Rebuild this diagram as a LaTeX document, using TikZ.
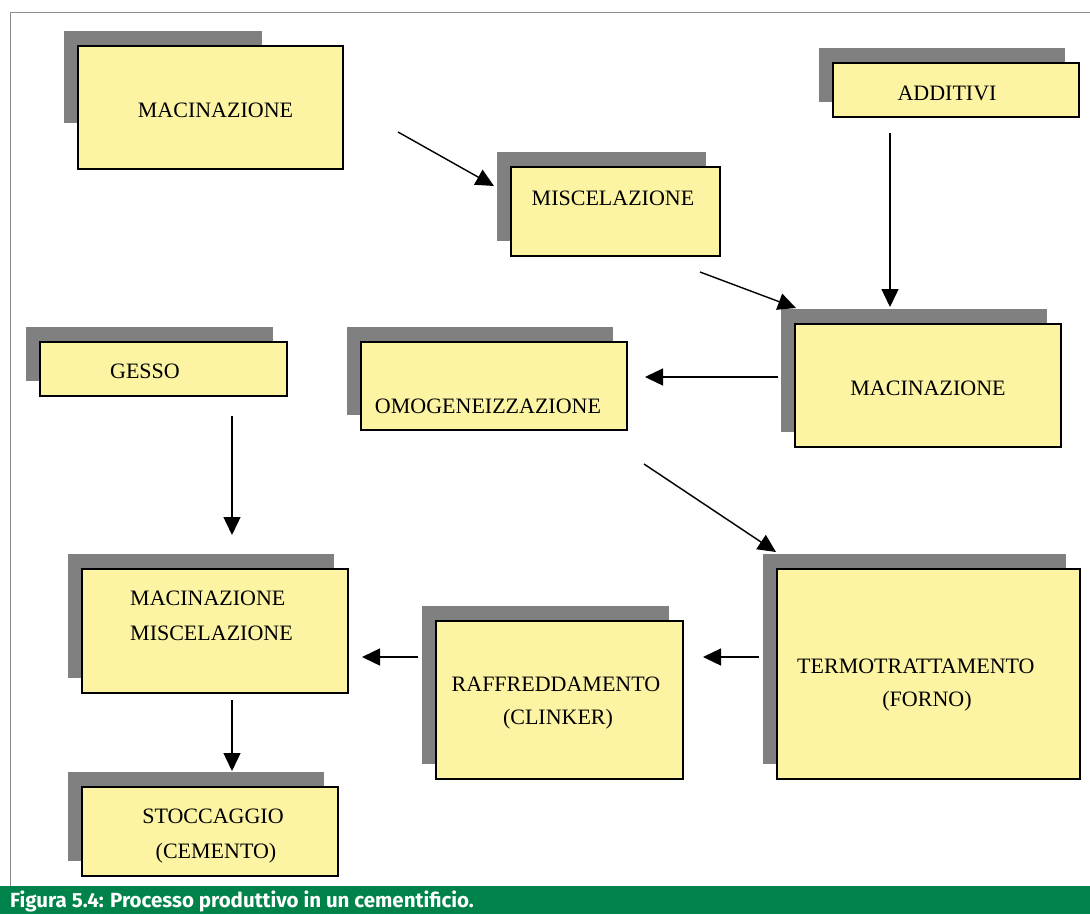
\documentclass[tikz,border=0pt]{standalone}
\usepackage{fontspec}
\setmainfont{Liberation Serif}
\newfontfamily\capfont{Fira Sans}
\usepackage{xcolor}
\usetikzlibrary{arrows.meta, shadows}
\definecolor{boxyellow}{RGB}{252,244,163}
\definecolor{shadowgray}{RGB}{128,128,128}
\definecolor{capgreen}{RGB}{0,131,74}
\definecolor{framegray}{RGB}{140,140,140}

\begin{document}
\begin{tikzpicture}[x=1pt, y=-1pt,
  bx/.style={rectangle, draw=black, line width=1.4pt, fill=boxyellow,
             inner sep=0pt, outer sep=0pt},
  sbx/.style={bx, general shadow={fill=shadowgray, shadow xshift=-14pt,
              shadow yshift=15pt}},
  lbl/.style={font=\fontsize{22}{26}\selectfont, inner sep=0pt, anchor=base},
  ar/.style={-{Triangle[length=18pt, width=17pt]}, line width=1.4pt},
  captxt/.style={font=\capfont\bfseries\fontsize{20.5}{24}\selectfont, text=white,
              inner sep=0pt, anchor=base west}
]
\useasboundingbox (0,0) rectangle (1090,914);
\fill[white] (0,0) rectangle (1090,914);
%% Frame and caption bar
\coordinate (fbl) at (10,886);
\coordinate (ftl) at (10,12);
\coordinate (ftr) at (1090,12);
\draw[framegray, line width=1pt] (fbl) -- (ftl) -- (ftr);
\fill[capgreen] (0,886) rectangle (1090,914);
\node[captxt] (caption) at (10,907) {Figura 5.4: Processo produttivo in un cementificio.};

%% Top row
\fill[shadowgray] (64,31) rectangle (262,123);
\node[bx, minimum width=265pt, minimum height=123pt] (mac1) at (210.5,107.5) {};
\node[lbl] (tmac1) at (215.5,117) {MACINAZIONE};
\node[sbx, minimum width=246pt, minimum height=54pt] (add) at (956,90) {};
\node[lbl] (tadd) at (947,100) {ADDITIVI};
\node[sbx, minimum width=209pt, minimum height=89pt] (misc) at (615.5,211.5) {};
\node[lbl] (tmisc) at (613,205) {MISCELAZIONE};

%% Middle row
\node[sbx, minimum width=247pt, minimum height=54pt] (gesso) at (163.5,369) {};
\node[lbl] (tgesso) at (145,378) {GESSO};
\node[sbx, minimum width=266pt, minimum height=88pt] (omog) at (494,386) {};
\node[lbl] (tomog) at (488,413) {OMOGENEIZZAZIONE};
\node[sbx, minimum width=266pt, minimum height=123pt] (mac2) at (928,385.5) {};
\node[lbl] (tmac2) at (928,395) {MACINAZIONE};

%% Bottom rows
\node[sbx, minimum width=266pt, minimum height=124pt] (macmisc) at (215,631) {};
\node[lbl, anchor=base west] (tmacmisc) at (130,605) {MACINAZIONE};
\node[lbl, anchor=base west] (tmacmiscb) at (130,640) {MISCELAZIONE};
\node[sbx, minimum width=247pt, minimum height=158pt] (raff) at (559.5,700) {};
\node[lbl] (traff) at (556,691) {RAFFREDDAMENTO};
\node[lbl] (traffb) at (558,724) {(CLINKER)};
\node[sbx, minimum width=303pt, minimum height=210pt] (termo) at (928.5,674) {};
\node[lbl, anchor=base west] (ttermo) at (797,673) {TERMOTRATTAMENTO};
\node[lbl] (ttermob) at (927,706) {(FORNO)};
\node[sbx, minimum width=256pt, minimum height=89pt] (stocc) at (210,831.5) {};
\node[lbl] (tstocc) at (213,823) {STOCCAGGIO};
\node[lbl] (tstoccb) at (216,858) {(CEMENTO)};

%% Arrow ends
\coordinate (a1s) at (398,132);  \coordinate (a1e) at (494,186);
\coordinate (a2s) at (700,272);  \coordinate (a2e) at (796,308);
\coordinate (a3s) at (890,133);  \coordinate (a3e) at (890,307);
\coordinate (a4s) at (778,377);  \coordinate (a4e) at (645,377);
\coordinate (a5s) at (644,464);  \coordinate (a5e) at (776,552);
\coordinate (a6s) at (232,416);  \coordinate (a6e) at (232,535);
\coordinate (a7s) at (759,657);  \coordinate (a7e) at (703,657);
\coordinate (a8s) at (418,657);  \coordinate (a8e) at (362,657);
\coordinate (a9s) at (232,700);  \coordinate (a9e) at (232,771);
\draw[ar] (a1s) -- (a1e);
\draw[ar] (a2s) -- (a2e);
\draw[ar] (a3s) -- (a3e);
\draw[ar] (a4s) -- (a4e);
\draw[ar] (a5s) -- (a5e);
\draw[ar] (a6s) -- (a6e);
\draw[ar] (a7s) -- (a7e);
\draw[ar] (a8s) -- (a8e);
\draw[ar] (a9s) -- (a9e);
\end{tikzpicture}
\end{document}
